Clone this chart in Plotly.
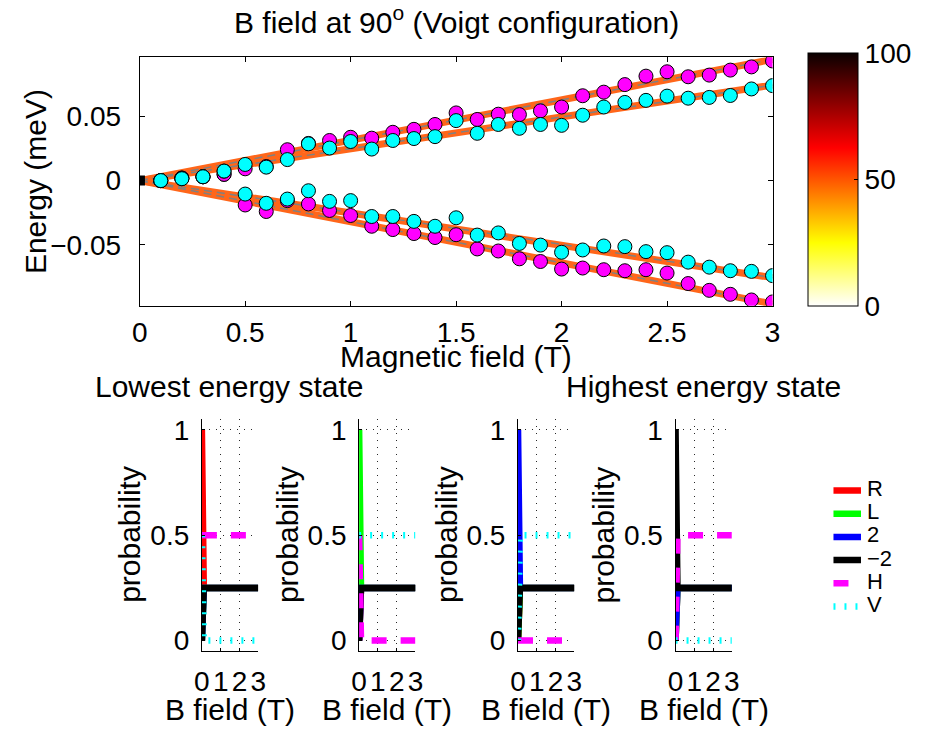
import plotly.graph_objects as go

# ---------------- data ----------------
B_pts = [0.1, 0.2, 0.3, 0.4, 0.5, 0.6, 0.7, 0.8, 0.9, 1.0,
         1.1, 1.2, 1.3, 1.4, 1.5, 1.6, 1.7, 1.8, 1.9, 2.0,
         2.1, 2.2, 2.3, 2.4, 2.5, 2.6, 2.7, 2.8, 2.9, 3.0]

upper_magenta = [0.000, 0.002, 0.003, 0.0049, 0.0092, 0.011, 0.0241, 0.029, 0.0313, 0.0338,
                 0.0331, 0.0377, 0.0400, 0.0438, 0.0528, 0.0477, 0.0518, 0.0515, 0.0544, 0.0574,
                 0.0662, 0.0690, 0.0749, 0.0815, 0.0849, 0.0810, 0.0823, 0.0862, 0.0887, 0.0933]
lower_magenta = [0.000, 0.002, 0.003, 0.0049, -0.0190, -0.0241, -0.0156, -0.0182, -0.0233, -0.0272,
                 -0.0356, -0.0382, -0.0413, -0.0444, -0.0422, -0.0533, -0.0549, -0.0610, -0.0631, -0.0690,
                 -0.0682, -0.0695, -0.0703, -0.0695, -0.0721, -0.0803, -0.0856, -0.0887, -0.0931, -0.0946]
upper_cyan = [0.000, 0.0015, 0.003, 0.0074, 0.0126, 0.0105, 0.0164, 0.0287, 0.0254, 0.0305,
              0.0246, 0.0313, 0.0328, 0.0343, 0.0468, 0.0369, 0.0438, 0.0408, 0.0438, 0.0431,
              0.0510, 0.0574, 0.0610, 0.0626, 0.0659, 0.0643, 0.0649, 0.0664, 0.0715, 0.0741]
lower_cyan = [0.000, 0.0015, 0.003, 0.0074, -0.0105, -0.0177, -0.0144, -0.0079, -0.0162, -0.0156,
              -0.0280, -0.0280, -0.0318, -0.0356, -0.0290, -0.0425, -0.0408, -0.0490, -0.0503, -0.0559,
              -0.0541, -0.0510, -0.0515, -0.0554, -0.0562, -0.0636, -0.0675, -0.0703, -0.0708, -0.0741]

B_line = [0, 0.5, 1.0, 1.5, 2.0, 2.5, 3.0]
line_upper_outer = [0, 0.0158, 0.0315, 0.0475, 0.0628, 0.0788, 0.0945]
line_upper_inner = [0, 0.0125, 0.0250, 0.0374, 0.0497, 0.0618, 0.0745]
line_lower_inner = [0, -0.0125, -0.0250, -0.0372, -0.0497, -0.0628, -0.0757]
line_lower_outer = [0, -0.0160, -0.0320, -0.0477, -0.0638, -0.0800, -0.0962]
B_zero_seg = [0, 0.025]
E_zero_seg = [0, 0]

cbar_ticks = [0, 50, 100]

# probability panels
B_prob = [0, 0.1, 3.0]
state_titles = ["Lowest energy state", "", "", "Highest energy state"]
comp_names = ["R", "L", "2", "\u22122", "H", "V"]
prob = [
    # R, L, 2, -2, H, V
    [[1, .25, .25], [0, .25, .25], [0, .25, .25], [0, .25, .25], [0.5, 0.5, 0.5], [0.5, 0, 0]],
    [[0, .25, .25], [1, .25, .25], [0, .25, .25], [0, .25, .25], [0.5, 0, 0], [0.5, 0.5, 0.5]],
    [[0, .25, .25], [0, .25, .25], [1, .25, .25], [0, .25, .25], [0, 0, 0], [0, 0.5, 0.5]],
    [[0, .25, .25], [0, .25, .25], [0, .25, .25], [1, .25, .25], [0, 0.5, 0.5], [0, 0, 0]],
]

# ---------------- style ----------------
W, H = 925, 737
FONT = "Liberation Sans, Arial, sans-serif"
def fx(p): return p / W
def fy(p): return 1 - p / H

comp_styles = [
    dict(color="rgb(255,0,0)", width=6.5, dash="solid"),
    dict(color="rgb(0,255,0)", width=6.5, dash="solid"),
    dict(color="rgb(0,0,255)", width=6.5, dash="solid"),
    dict(color="rgb(0,0,0)", width=6.5, dash="solid"),
    dict(color="rgb(255,0,255)", width=6.5, dash="15px,14px"),
    dict(color="rgb(0,255,255)", width=6.5, dash="2px,9px"),
]

fig = go.Figure()

ORANGE = "rgb(255,102,26)"
for ys in [line_upper_outer, line_upper_inner, line_lower_inner, line_lower_outer]:
    fig.add_trace(go.Scatter(x=B_line, y=ys, mode="lines", line=dict(color=ORANGE, width=7),
                             showlegend=False, hoverinfo="skip", xaxis="x", yaxis="y"))
for ys in [line_upper_outer, line_upper_inner, line_lower_inner, line_lower_outer]:
    fig.add_trace(go.Scatter(x=B_line, y=ys, mode="lines",
                             line=dict(color="rgb(128,128,128)", width=1.5, dash="8px,5px"),
                             showlegend=False, hoverinfo="skip", xaxis="x", yaxis="y"))
fig.add_trace(go.Scatter(x=B_zero_seg, y=E_zero_seg, mode="lines", line=dict(color="black", width=10),
                         showlegend=False, xaxis="x", yaxis="y"))

fig.add_trace(go.Scatter(x=B_pts + B_pts, y=upper_magenta + lower_magenta, mode="markers",
                         marker=dict(size=14, color="rgb(255,0,255)", line=dict(color="black", width=1)),
                         showlegend=False, xaxis="x", yaxis="y"))
fig.add_trace(go.Scatter(x=B_pts + B_pts, y=upper_cyan + lower_cyan, mode="markers",
                         marker=dict(size=14, color="rgb(0,255,255)", line=dict(color="black", width=1)),
                         showlegend=False, xaxis="x", yaxis="y"))

# colorbar carrier
fig.add_trace(go.Scatter(x=[-5, -5], y=[0, 0], mode="markers", showlegend=False, xaxis="x", yaxis="y",
                         marker=dict(color=[0, 100], cmin=0, cmax=100,
                                     colorscale=[[0, "rgb(255,255,255)"], [0.25, "rgb(255,255,0)"],
                                                 [0.625, "rgb(255,0,0)"], [1, "rgb(10,0,0)"]],
                                     showscale=True,
                                     colorbar=dict(x=fx(814), xanchor="left", xpad=0,
                                                   y=fy(305), yanchor="bottom", ypad=0,
                                                   thickness=50, thicknessmode="pixels",
                                                   len=253, lenmode="pixels",
                                                   outlinewidth=1, outlinecolor="black",
                                                   tickvals=cbar_ticks, ticks="inside", ticklen=4,
                                                   tickcolor="black",
                                                   tickfont=dict(size=28, family=FONT, color="black")))))

# probability panels
panel_left = [197.3, 357.3, 519.0, 679.3]
panel_w = 57.3
for i in range(4):
    xa = "x%d" % (i + 2)
    ya = "y%d" % (i + 2)
    for j in range(6):
        fig.add_trace(go.Scatter(x=B_prob, y=prob[i][j], mode="lines", name=comp_names[j],
                                 line=comp_styles[j], showlegend=False,
                                 xaxis=xa, yaxis=ya))

# legend (drawn on its own hidden axis so its spacing matches the reference)
leg_rows = [0, 1, 2, 3, 4, 5]
for j in range(6):
    fig.add_trace(go.Scatter(x=[2, 30], y=[leg_rows[j], leg_rows[j]], mode="lines",
                             line=comp_styles[j], showlegend=False, hoverinfo="skip",
                             xaxis="x6", yaxis="y6"))
fig.add_trace(go.Scatter(x=[36] * 6, y=leg_rows, mode="text", text=comp_names,
                         textposition="middle right",
                         textfont=dict(size=22, family=FONT, color="black"),
                         showlegend=False, hoverinfo="skip", xaxis="x6", yaxis="y6"))

axis_common = dict(showline=True, linecolor="black", linewidth=1, ticks="inside",
                   tickcolor="black", zeroline=False,
                   tickfont=dict(size=28, family=FONT, color="black"))

layout = dict(
    width=W, height=H, margin=dict(l=0, r=0, t=0, b=0),
    paper_bgcolor="white", plot_bgcolor="white", showlegend=False,
    font=dict(family=FONT, color="black"),
    xaxis=dict(domain=[fx(134), fx(778)], range=[0, 3], dtick=0.5, mirror="ticks",
               ticklen=5, showgrid=False, ticklabelstandoff=2, anchor="y", **axis_common),
    yaxis=dict(domain=[fy(305), fy(53)], range=[-0.0977, 0.0962], tickvals=[-0.05, 0, 0.05],
               mirror="ticks", ticklen=5, showgrid=False, ticklabelstandoff=12, anchor="x",
               **axis_common),
    xaxis6=dict(domain=[fx(838), fx(918)], range=[0, 80], visible=False, anchor="y6"),
    yaxis6=dict(domain=[fy(621.5), fy(480.5)], range=[5.5, -0.5], visible=False, anchor="x6"),
)
for i in range(4):
    layout["xaxis%d" % (i + 2)] = dict(domain=[fx(panel_left[i]), fx(panel_left[i] + panel_w)],
                                       range=[0, 3], tickvals=[0, 1, 2, 3], ticklen=3,
                                       showgrid=True, gridcolor="rgb(40,40,40)", gridwidth=1,
                                       griddash="1px,6px", ticklabelstandoff=5,
                                       anchor="y%d" % (i + 2), **axis_common)
    layout["yaxis%d" % (i + 2)] = dict(domain=[fy(655), fy(420)], range=[-0.05, 1.05],
                                       tickvals=[0, 0.5, 1], ticklen=3,
                                       showgrid=True, gridcolor="rgb(40,40,40)", gridwidth=1,
                                       griddash="1px,6px", ticklabelstandoff=6,
                                       anchor="x%d" % (i + 2), **axis_common)
fig.update_layout(**layout)

ann = []
def add_text(text, x, y, size=30, angle=0):
    ann.append(dict(text=text, x=x, y=y, xref="paper", yref="paper", showarrow=False,
                    xanchor="center", yanchor="middle", textangle=angle,
                    font=dict(size=size, family=FONT, color="black")))

add_text("B field at 90<sup>o</sup> (Voigt configuration)", fx(456), fy(15), size=30)
add_text("Energy (meV)", fx(28), fy(179), angle=-90)
add_text("Magnetic field (T)", fx(456), fy(356))
for i in range(4):
    cx = panel_left[i] + panel_w / 2
    add_text("probability", fx(panel_left[i] - 73), fy(537), angle=-90)
    add_text("B field (T)", fx(cx), fy(714))
add_text(state_titles[0], fx(225), fy(387))
add_text(state_titles[3], fx(708), fy(387))
fig.update_layout(annotations=ann)

fig.write_html("out.html")
